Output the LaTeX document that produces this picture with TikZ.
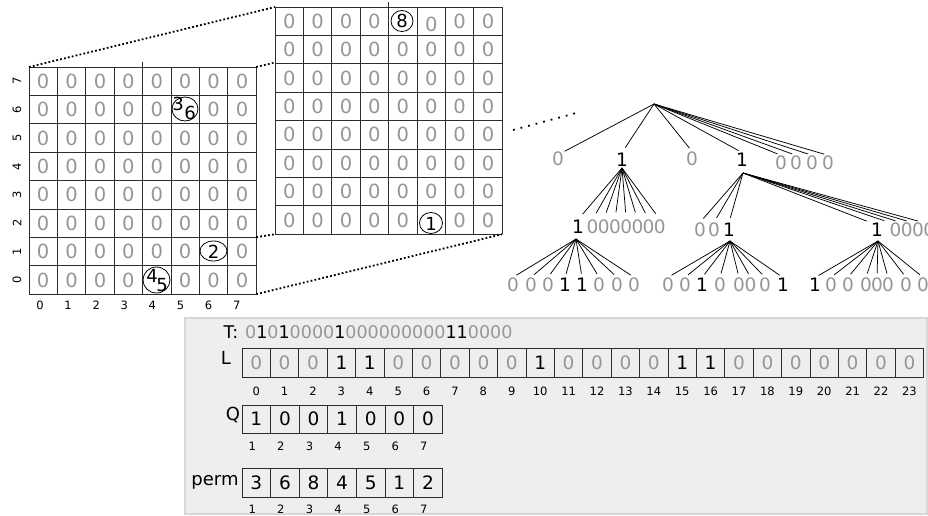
\documentclass[tikz,border=0pt]{standalone}
\usepackage{fontspec}
\setmainfont{DejaVu Sans}
\usetikzlibrary{shapes.geometric}
\definecolor{zg}{RGB}{150,150,150}
\definecolor{ln}{RGB}{45,45,45}
\definecolor{pfill}{RGB}{238,238,238}
\definecolor{pdraw}{RGB}{215,215,215}
\newcommand{\zz}{\textcolor{zg}{0}}
\begin{document}
\begin{tikzpicture}[x=1pt,y=-1pt,
  gl/.style={draw=ln, line width=0.8pt},
  gthick/.style={draw=ln, line width=1.7pt},
  gd/.style={text=zg, font=\fontsize{19.5}{19.5}\selectfont, inner sep=0pt},
  bd/.style={text=black, font=\fontsize{18}{18}\selectfont, inner sep=0pt},
  ov/.style={draw=black, line width=0.8pt, ellipse, inner sep=0pt},
  ax/.style={font=\fontsize{11.5}{11.5}\selectfont, inner sep=0pt},
  dotln/.style={line width=1.8pt, dash pattern=on 1.8pt off 2.2pt, line cap=butt},
  td/.style={font=\fontsize{18.5}{18.5}\selectfont, inner sep=0.5pt},
  tz/.style={td, text=zg},
  tb/.style={td, text=black},
  tline/.style={draw=black, line width=0.75pt},
  cellbox/.style={draw=ln, line width=0.8pt, minimum width=28.4pt, minimum height=29pt, inner sep=0pt, font=\fontsize{18.5}{18.5}\selectfont},
  lab/.style={font=\fontsize{11.5}{11.5}\selectfont, inner sep=0pt, anchor=base},
]
\useasboundingbox (0,0) rectangle (928,516);
\clip (0,0) rectangle (928,516);
\fill[white] (0,0) rectangle (928,516);

% ---------------- left grid ----------------
\foreach \i in {0,...,8}{
  \draw[gl] ({29+28.4*\i},67) -- ({29+28.4*\i},294.2);
  \draw[gl] (29,{67+28.4*\i}) -- (256.2,{67+28.4*\i});
}
\draw[gthick] (142.6,62) -- (142.6,294.2);
\draw[gthick] (29,180.6) -- (256.2,180.6);
\foreach \r in {0,...,7}{
  \foreach \c in {0,...,7}{
    \pgfmathtruncatemacro{\k}{\r*10+\c}
    \ifnum\k=15 \else\ifnum\k=66 \else\ifnum\k=74 \else
      \node[gd] (A\r\c) at ({29+28.4*(\c+0.5)},{67+28.4*(\r+0.5)}) {0};
    \fi\fi\fi
  }
  \pgfmathtruncatemacro{\lb}{7-\r}
  \node[ax, rotate=90] (ry\r) at (17,{67+28.4*(\r+0.5)}) {\lb};
  \node[ax] (cx\r) at ({40+28.1*\r},305) {\r};
}
\node[ov, minimum width=26pt, minimum height=24pt] (o36) at (185,109) {};
\node[bd] (t3) at (178,104) {3};
\node[bd] (t6) at (190,113) {6};
\node[ov, minimum width=27pt, minimum height=20pt] (o2) at (213.5,251) {};
\node[bd] (t2) at (213.5,252) {2};
\node[ov, minimum width=27pt, minimum height=26pt] (o45) at (156.5,280) {};
\node[bd] (t4) at (152,276) {4};
\node[bd] (t5) at (162,285) {5};

% ---------------- middle grid ----------------
\foreach \i in {0,...,8}{
  \draw[gl] ({275+28.4*\i},7) -- ({275+28.4*\i},234.2);
  \draw[gl] (275,{7+28.4*\i}) -- (502.2,{7+28.4*\i});
}
\draw[gthick] (388.6,2) -- (388.6,234.2);
\draw[gthick] (275,120.6) -- (502.2,120.6);
\foreach \r in {0,...,7}{
  \foreach \c in {0,...,7}{
    \pgfmathtruncatemacro{\k}{\r*10+\c}
    \ifnum\k=4 \else\ifnum\k=75 \else\ifnum\k=5
      \node[gd] (B\r\c) at ({275+28.4*(\c+0.5)},{7+28.4*(\r+0.5)+3}) {0};
    \else
      \node[gd] (B\r\c) at ({275+28.4*(\c+0.5)},{7+28.4*(\r+0.5)}) {0};
    \fi\fi\fi
  }
}
\node[ov, minimum width=22pt, minimum height=21pt] (o8) at (402,21) {};
\node[bd] (t8) at (402,21) {8};
\node[ov, minimum width=23pt, minimum height=21pt] (o1) at (431,223) {};
\node[bd] (t1) at (431,223.5) {1};

% ---------------- zoom dotted lines ----------------
\coordinate (LTL) at (29,67);
\coordinate (LTR) at (256.2,67);
\coordinate (LR2) at (256.2,237.2);
\coordinate (LBR) at (256.2,294.2);
\coordinate (MTL) at (275,7);
\coordinate (MR1) at (275,62.5);
\coordinate (MBL) at (275,234.2);
\coordinate (MBR) at (502.2,234.2);
\draw[dotln] (LTL) -- (MTL);
\draw[dotln] (LTR) -- (MR1);
\draw[dotln] (LR2) -- (MBL);
\draw[dotln] (LBR) -- (MBR);
\coordinate (tdA) at (513,130);
\coordinate (tdB) at (580,112);
\draw[line width=1.8pt, dash pattern=on 1.8pt off 6pt] (tdA) -- (tdB);

% ---------------- tree ----------------
\coordinate (root) at (654,104);
\node[tz] (n1) at (558,159) {0};
\node[tb] (n2) at (622,160) {1};
\node[tz] (n3) at (692,159) {0};
\node[tb] (n4) at (742,160) {1};
\node[tz] (n5) at (781,163) {0};
\node[tz] (n6) at (796,163) {0};
\node[tz] (n7) at (812,163) {0};
\node[tz] (n8) at (828,163) {0};
\draw[tline] (root) -- (n1.north east);
\draw[tline, shorten >=6pt] (root) -- (n2.north);
\foreach \n in {3,4,5,6,7,8}{ \draw[tline, shorten >=4pt] (root) -- (n\n.north); }

\coordinate (a2) at (622,168);
\node[tb] (m1) at (578,227) {1};
\node[tz] (m2) at (592.6,227) {0};
\node[tz] (m3) at (603.8,227) {0};
\node[tz] (m4) at (615,227) {0};
\node[tz] (m5) at (626.2,227) {0};
\node[tz] (m6) at (637.4,227) {0};
\node[tz] (m7) at (648.6,227) {0};
\node[tz] (m8) at (659.8,227) {0};
\foreach \n in {1,...,8}{ \draw[tline, shorten >=7pt] (a2) -- (m\n.north); }

\coordinate (a4) at (743,173);
\node[tz] (p1) at (700,230) {0};
\node[tz] (p2) at (714,230) {0};
\node[tb] (p3) at (729,230) {1};
\node[tb] (p4) at (877,230) {1};
\node[tz] (p5) at (895.6,230) {0};
\node[tz] (p6) at (906.8,230) {0};
\node[tz] (p7) at (918,230) {0};
\node[tz] (p8) at (929.2,230) {0};
\foreach \n in {1,2,3}{ \draw[tline, shorten >=5pt] (a4) -- (p\n.north); }
\draw[tline, shorten >=4pt] (a4) -- (p4.north west);
\foreach \n in {5,...,8}{ \draw[tline, shorten >=5pt] (a4) -- (p\n.north west); }

\coordinate (b1) at (576,239);
\node[tz] (q1) at (513,285) {0};
\node[tz] (q2) at (531,285) {0};
\node[tz] (q3) at (548,285) {0};
\node[tb] (q4) at (565,285) {1};
\node[tb] (q5) at (582,285) {1};
\node[tz] (q6) at (599,285) {0};
\node[tz] (q7) at (617,285) {0};
\node[tz] (q8) at (634,285) {0};
\foreach \n in {1,...,8}{ \draw[tline, shorten >=4pt] (b1) -- (q\n.north); }

\coordinate (b2) at (730,241);
\node[tz] (r1) at (668,285) {0};
\node[tz] (r2) at (685,285) {0};
\node[tb] (r3) at (702,285) {1};
\node[tz] (r4) at (720,285) {0};
\node[tz] (r5) at (739,285) {0};
\node[tz] (r6) at (750.5,285) {0};
\node[tz] (r7) at (765,285) {0};
\node[tb] (r8) at (783,285) {1};
\foreach \n in {1,...,8}{ \draw[tline, shorten >=4pt] (b2) -- (r\n.north); }

\coordinate (b3) at (878,241);
\node[tb] (s1) at (815,285) {1};
\node[tz] (s2) at (831,285) {0};
\node[tz] (s3) at (848,285) {0};
\node[tz] (s4) at (866,285) {0};
\node[tz] (s5) at (877,285) {0};
\node[tz] (s6) at (888,285) {0};
\node[tz] (s7) at (906,285) {0};
\node[tz] (s8) at (923,285) {0};
\foreach \n in {1,...,8}{ \draw[tline, shorten >=4pt] (b3) -- (s\n.north); }

% ---------------- bottom panel ----------------
\draw[draw=pdraw, fill=pfill, line width=1.5pt] (185,318) rectangle (927,514);
\node[font=\fontsize{17.5}{17.5}\selectfont, inner sep=0pt] (Tl) at (231,332) {T:};
\node[font=\fontsize{17.5}{17.5}\selectfont, inner sep=0pt, anchor=west] (Tb) at (245,332)
  {\zz1\zz1\zz\zz\zz\zz1\zz\zz\zz\zz\zz\zz\zz\zz\zz11\zz\zz\zz\zz};

\node[font=\fontsize{18}{18}\selectfont, inner sep=0pt] (Ll) at (226,358) {L};
\foreach \v [count=\i from 0] in {0,0,0,1,1,0,0,0,0,0,1,0,0,0,0,1,1,0,0,0,0,0,0,0}{
  \node[cellbox] (L\i) at ({242+28.4*(\i+0.5)},362.5) {\ifnum\v=0 \textcolor{zg}{0}\else 1\fi};
  \node[lab] (Lx\i) at ({242+28.4*(\i+0.5)},395) {\i};
}

\node[font=\fontsize{18}{18}\selectfont, inner sep=0pt] (Ql) at (233,415) {Q};
\foreach \v [count=\i] in {1,0,0,1,0,0,0}{
  \node[cellbox, minimum width=28.6pt, minimum height=28pt] (Q\i) at ({242+28.6*(\i-0.5)},419) {\v};
  \node[lab] (Qx\i) at ({242+28.6*(\i-0.5)-4},450) {\i};
}

\node[font=\fontsize{18}{18}\selectfont, inner sep=0pt] (Pl) at (215,482) {perm};
\foreach \v [count=\i] in {3,6,8,4,5,1,2}{
  \node[cellbox, minimum width=28.6pt, minimum height=29pt] (P\i) at ({242+28.6*(\i-0.5)},482.5) {\v};
  \node[lab] (Px\i) at ({242+28.6*(\i-0.5)-4},513) {\i};
}
\end{tikzpicture}
\end{document}
